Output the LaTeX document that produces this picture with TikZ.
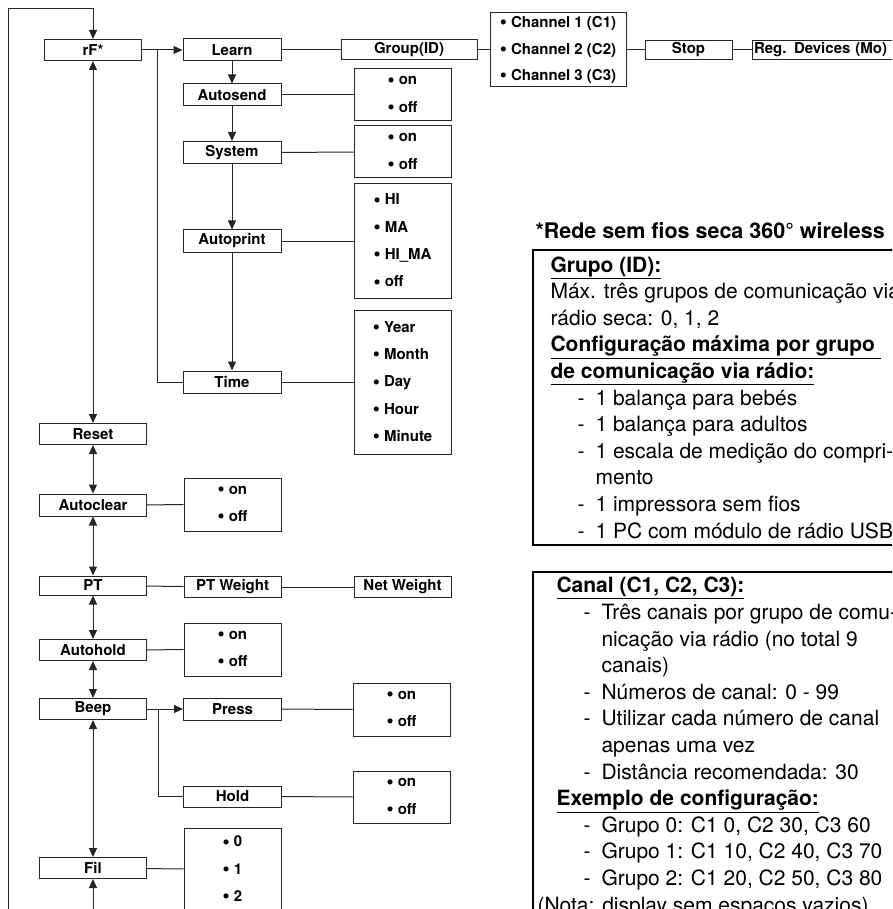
\documentclass[tikz,border=0pt]{standalone}
\usepackage{fontspec}
\setmainfont{TeX Gyre Heros}
\usepackage{tikz}
\usetikzlibrary{arrows.meta}
\usetikzlibrary{calc}

\newcommand{\dashline}[1]{\hspace*{27pt}\makebox[18pt][l]{-}#1}
\newcommand{\dashmore}[1]{\hspace*{45pt}#1}
\newcommand{\opt}{\raisebox{-1.4pt}{\scalebox{1.35}{\textbullet}}\ }

\begin{document}
\begin{tikzpicture}[x=1pt,y=-1pt,line width=1pt,
        box/.style={draw=black!85, line width=1pt, inner sep=0pt, minimum height=21pt,
            font=\bfseries\fontsize{15}{18}\selectfont},
        mainbox/.style={box, minimum width=107pt},
        subbox/.style={box, minimum width=98pt},
        listbox/.style={box, minimum width=97pt, align=left,
            font=\bfseries\fontsize{15}{27.3}\selectfont},
        arr/.style={draw=black!85, -{Triangle[length=9pt,width=8pt]}},
        twoway/.style={draw=black!85, {Triangle[length=9pt,width=8pt]}-{Triangle[length=9pt,width=8pt]}},
        link/.style={draw=black!85},
        panel/.style={draw=black, line width=2pt},
        paneltext/.style={anchor=base west, inner sep=0pt, align=left,
            font=\fontsize{21}{26.6}\selectfont}]
            \useasboundingbox (0,0) rectangle (892,909);
            \clip (0,0) rectangle (892,909);

            \node[box, minimum width=97pt] (rf) at (93,50) {rF*};
            \node[mainbox] (reset) at (93,434) {Reset};
            \node[mainbox, minimum height=22pt] (autoclear) at (93,505) {Autoclear};
            \node[mainbox, minimum height=19pt] (pt) at (93,585.5) {PT};
            \node[mainbox] (autohold) at (93,650) {Autohold};
            \node[mainbox] (beep) at (93,709) {Beep};
            \node[mainbox] (fil) at (93,868) {Fil};

            \node[subbox, minimum height=22pt] (learn) at (232,50) {Learn};
            \node[subbox, minimum height=22pt] (autosend) at (232,95) {Autosend};
            \node[subbox, minimum height=22pt] (system) at (232,152.5) {System};
            \node[subbox, minimum height=22pt] (autoprint) at (232,241) {Autoprint};
            \node[subbox, minimum height=22pt] (time) at (232,382) {Time};

            \node[box, minimum width=136pt, minimum height=20pt] (group) at (409,50) {Group(ID)};
            \node[listbox, minimum width=136pt, minimum height=74pt,
                font=\bfseries\fontsize{15}{26.5}\selectfont] (channel) at (558,50)
                {\opt Channel 1 (C1)\\ \opt Channel 2 (C2)\\ \opt Channel 3 (C3)};
            \node[box, minimum width=87pt, minimum height=19pt] (stop) at (688.5,50) {Stop};
            \node[box, minimum height=19pt, anchor=west, text width=146pt, inner xsep=1.5pt,
                align=left] (regdev) at (752,50) {Reg. Devices (Mo)};

            \node[listbox, minimum height=52pt] (autosendopt) at (402.5,95) {\opt on\\ \opt off};
            \node[listbox, minimum height=52pt] (systemopt) at (402.5,152) {\opt on\\ \opt off};
            \node[listbox, minimum height=114pt] (printopt) at (402.5,241)
                {\opt HI\\ \opt MA\\ \opt HI\_MA\\ \opt off};
            \node[listbox, minimum height=144pt] (timeopt) at (402.5,382)
                {\opt Year\\ \opt Month\\ \opt Day\\ \opt Hour\\ \opt Minute};

            \node[listbox, minimum height=53pt] (clearopt) at (232.5,504.5) {\opt on\\ \opt off};
            \node[subbox, minimum width=97pt] (ptweight) at (232.5,587) {PT Weight};
            \node[subbox, minimum width=97pt] (netweight) at (402.5,587) {Net Weight};
            \node[listbox, minimum height=53pt] (autoholdopt) at (232.5,649.5) {\opt on\\ \opt off};
            \node[subbox, minimum height=22pt] (press) at (232.5,709) {Press};
            \node[subbox] (hold) at (232.5,796.5) {Hold};
            \node[listbox, minimum height=53pt] (pressopt) at (401.5,709.5) {\opt on\\ \opt off};
            \node[listbox, minimum height=52pt] (holdopt) at (401.5,797) {\opt on\\ \opt off};
            \node[listbox, minimum height=83pt] (filopt) at (232.5,869.5)
                {\opt 0\\ \opt 1\\ \opt 2};

            \coordinate (loopbot) at (8,925);
            \coordinate (looptop) at (8,9);
            \coordinate (filbot) at (93,925);
            \coordinate (rfsplit) at (157,50);
            \coordinate (beepsplit) at (158,709);

            \draw[arr] (loopbot) -- (looptop) -| (rf.north);
            \draw[twoway] (rf) -- (reset);
            \draw[twoway] (reset) -- (autoclear);
            \draw[twoway] (autoclear) -- (pt);
            \draw[twoway] (pt) -- (autohold);
            \draw[twoway] (autohold) -- (beep);
            \draw[twoway] (beep) -- (fil);
            \draw[arr] (filbot) -- (fil);

            \draw[arr] (rf) -- (learn);
            \draw[link] (rfsplit) |- (time);
            \draw[arr] (learn) -- (autosend);
            \draw[arr] (autosend) -- (system);
            \draw[arr] (system) -- (autoprint);
            \draw[arr] (autoprint) -- (time);
            \draw[link] (learn) -- (group);
            \draw[link] (group) -- (channel);
            \draw[link] (channel) -- (stop);
            \draw[link] (stop) -- (regdev);
            \draw[link] (autosend) -- (autosendopt);
            \draw[link] (system) -- (systemopt);
            \draw[link] (autoprint) -- (printopt);
            \draw[link] (time) -- (timeopt);

            \draw[link] (autoclear) -- (clearopt);
            \draw[link] (pt) -- (ptweight);
            \draw[link] (ptweight) -- (netweight);
            \draw[link] (autohold) -- (autoholdopt);
            \draw[arr] (beep) -- (press);
            \draw[link] (beepsplit) |- (hold);
            \draw[link] (press) -- (pressopt);
            \draw[link] (hold) -- (holdopt);
            \draw[link] (fil) -- (filopt);

            \node[anchor=base west, inner sep=0pt, font=\bfseries\fontsize{21.5}{26}\selectfont]
                (title) at (535,239) {*Rede sem fios seca 360° wireless};
            \draw[panel] (533,250) rectangle (905,545);
            \node[paneltext] (grupotext) at (550,538) {%
                \textbf{\underline{Grupo (ID):}}\\
                Máx. três grupos de comunicação via\\
                rádio seca: 0, 1, 2\\
                \textbf{\underline{Configuração máxima por grupo\ }}\\
                \textbf{\underline{de comunicação via rádio:}}\\
                \dashline{1 balança para bebés}\\
                \dashline{1 balança para adultos}\\
                \dashline{1 escala de medição do compri-}\\
                \dashmore{mento}\\
                \dashline{1 impressora sem fios}\\
                \dashline{1 PC com módulo de rádio USB}};

            \draw[panel] (533,572) rectangle (905,930);
            \node[paneltext] (canaltext) at (556,912) {%
                \textbf{\underline{Canal (C1, C2, C3):}}\\
                \dashline{Três canais por grupo de comu-}\\
                \dashmore{nicação via rádio (no total 9}\\
                \dashmore{canais)}\\
                \dashline{Números de canal: 0 - 99}\\
                \dashline{Utilizar cada número de canal}\\
                \dashmore{apenas uma vez}\\
                \dashline{Distância recomendada: 30}\\
                \textbf{\underline{Exemplo de configuração:}}\\
                \dashline{Grupo 0: C1 0, C2 30, C3 60}\\
                \dashline{Grupo 1: C1 10, C2 40, C3 70}\\
                \dashline{Grupo 2: C1 20, C2 50, C3 80}\\
                \hspace*{-19pt}(Nota: display sem espaços vazios)};
\end{tikzpicture}
\end{document}
